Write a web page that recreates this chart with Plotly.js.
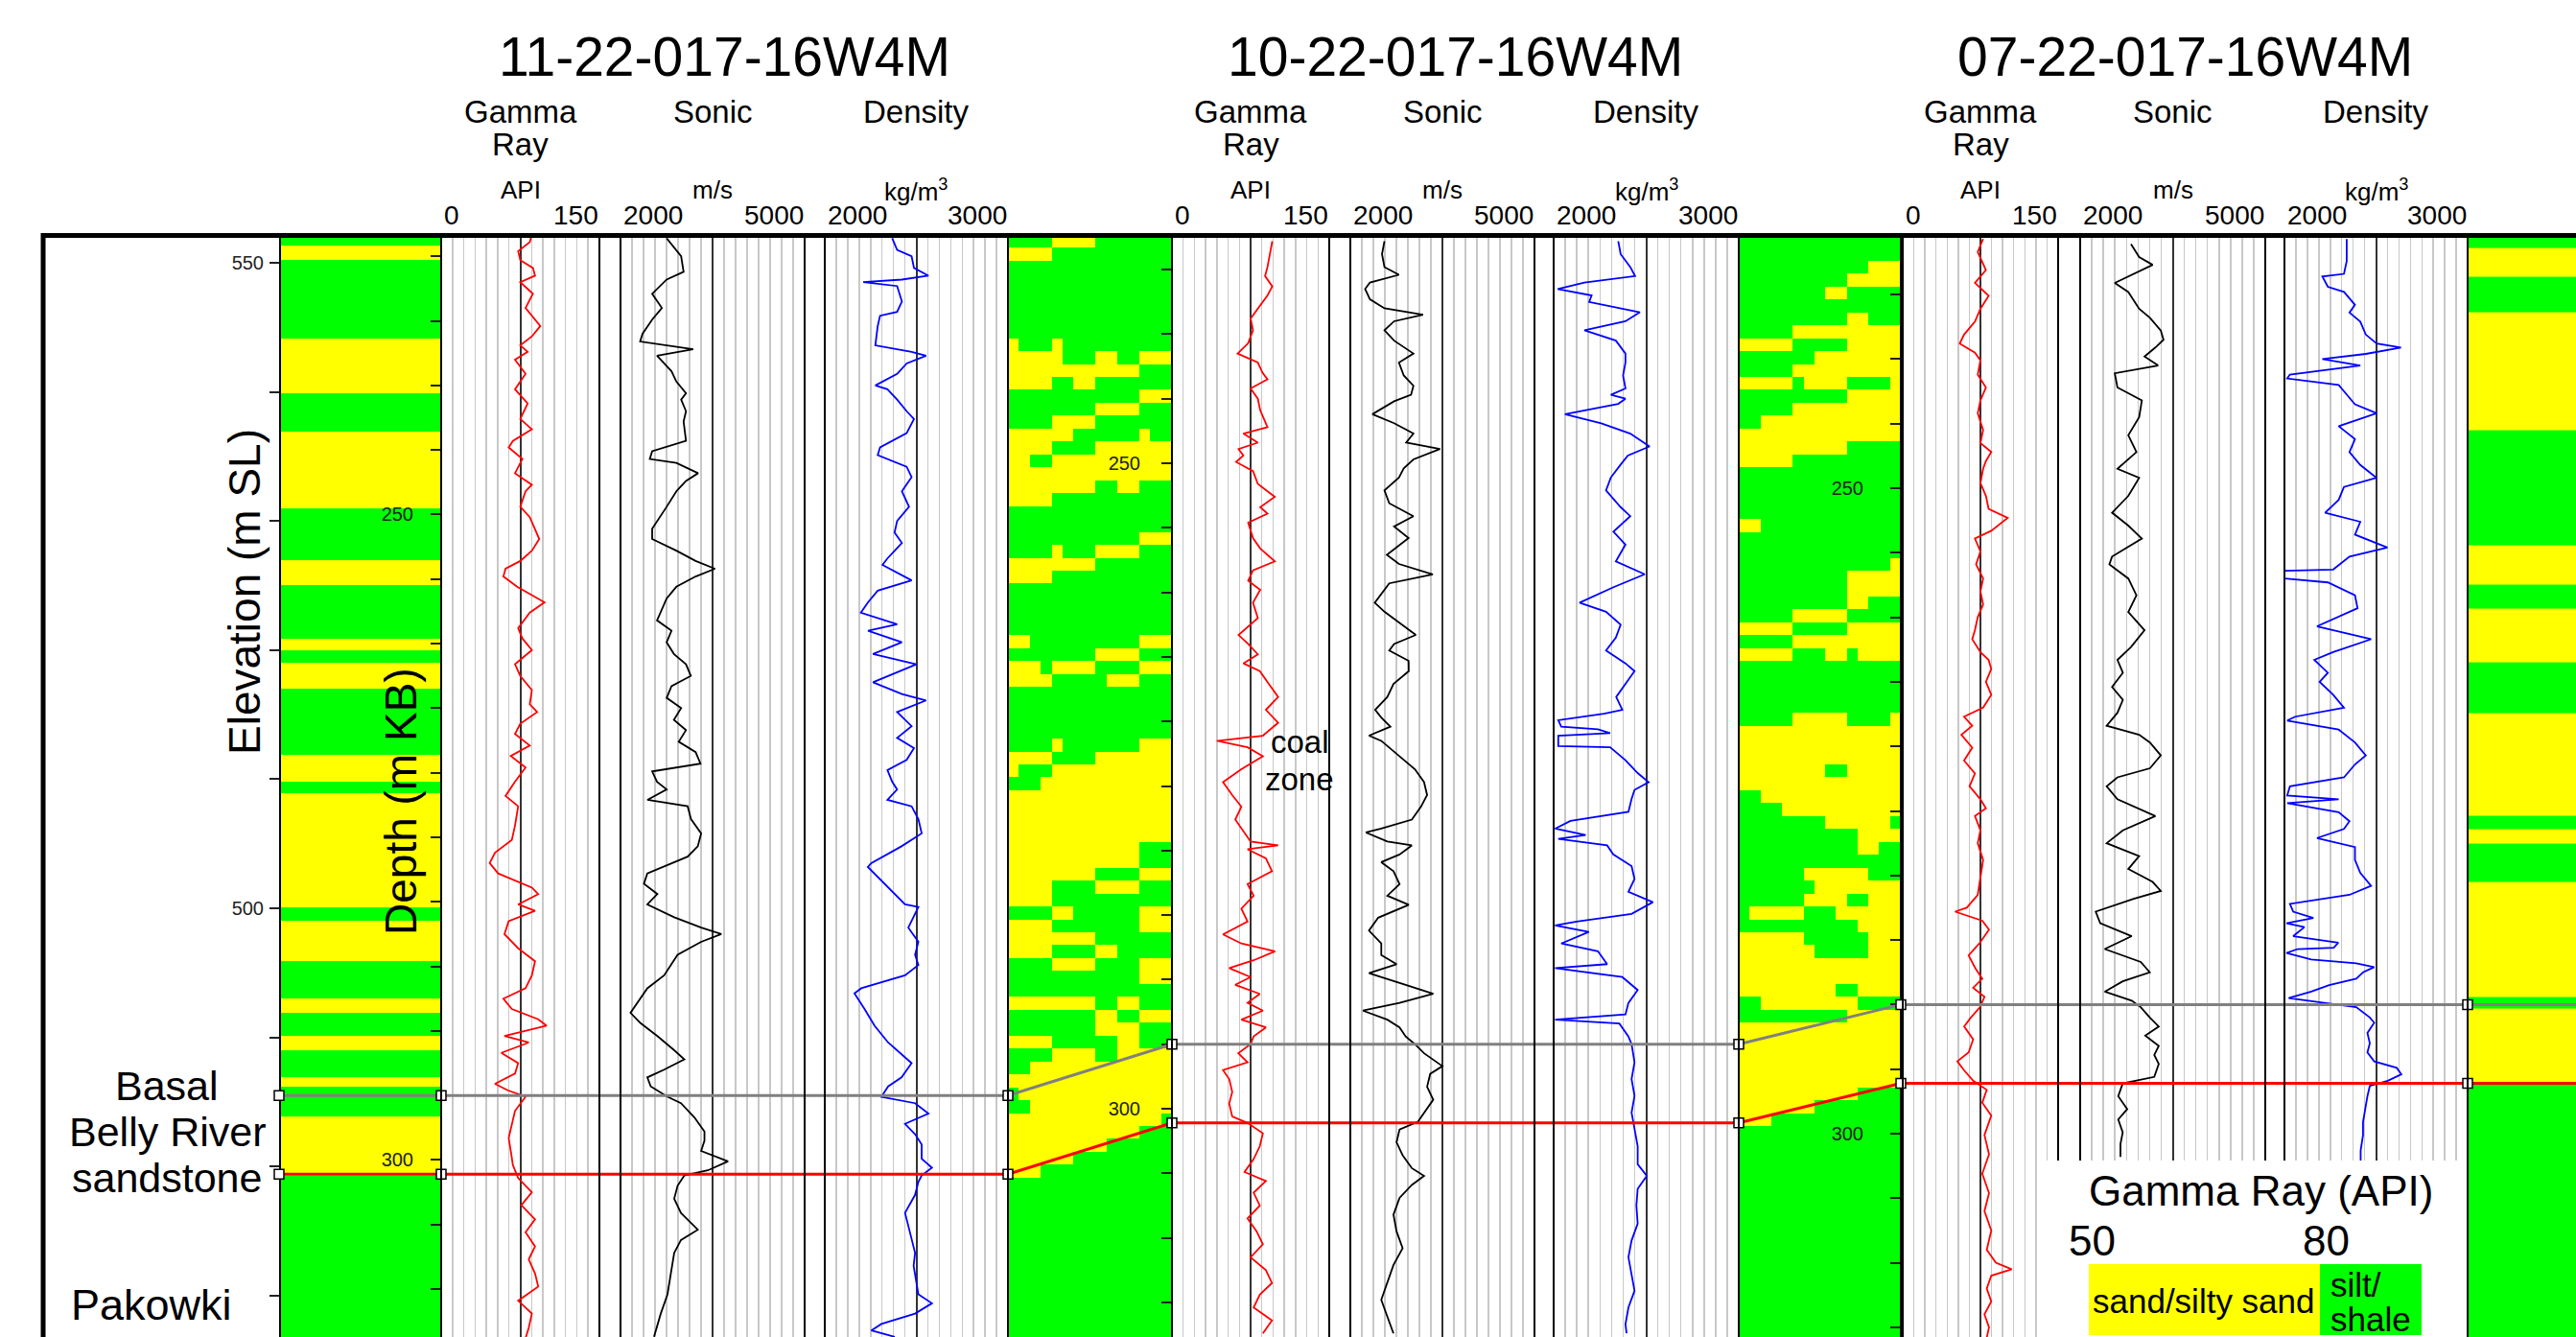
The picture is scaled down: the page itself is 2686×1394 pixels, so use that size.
<!DOCTYPE html>
<html>
<head>
<meta charset="utf-8">
<script src="https://cdn.plot.ly/plotly-3.0.1.min.js"></script>
<style>
html,body{margin:0;padding:0;background:#fff;}
#chart{width:2686px;height:1394px;}
</style>
</head>
<body>
<div id="chart"></div>
<script>
// ---------------- DATA ----------------
const wellNames = ['11-22-017-16W4M', '10-22-017-16W4M', '07-22-017-16W4M'];
const trackNames = ['Sonic', 'Density'];
const trackUnits = ['API', 'm/s', 'kg/m<sup>3</sup>'];
const trackMin = [0, 2000, 2000];
const trackMax = [150, 5000, 3000];
const trackMid = [75, 3500, 2500];
const trackDivisions = [14, 16, 16];

// formation tops (depth m KB) per well
const topBasalBR = [295.0, 295.0, 290.0];
const baseBasalBR = [301.1, 301.1, 296.1];

// Gamma ray [depth m KB, API]
const gr1 = [[228.3,86],[228.9,84],[229.6,73],[230.3,75],[230.9,87],[231.5,89],[232.0,75],[232.9,87],[234.0,80],[235.4,94],[236.2,86],[236.9,75],[237.4,82],[238.0,70],[239.1,80],[240.3,70],[241.4,82],[242.6,75],[243.4,86],[244.3,68],[244.8,64],[245.7,77],[246.8,70],[247.7,86],[248.2,80],[249.4,75],[250.2,84],[251.1,89],[251.9,93],[252.8,86],[253.6,75],[254.2,61],[254.8,59],[255.6,72],[256.8,98],[257.6,84],[258.8,73],[259.6,77],[260.5,86],[261.6,70],[262.5,75],[263.6,86],[264.7,84],[265.3,91],[266.2,75],[267.0,70],[267.9,84],[268.7,66],[269.6,80],[270.7,70],[271.8,61],[272.6,73],[274.1,70],[275.2,67],[276.2,51],[277.0,46],[277.8,54],[278.9,86],[279.4,92],[280.2,73],[280.7,89],[281.5,64],[282.5,60],[283.6,73],[284.6,89],[285.7,86],[286.7,80],[287.5,59],[288.3,67],[289.1,92],[289.6,100],[290.4,60],[290.9,83],[291.7,57],[292.5,73],[293.3,70],[294.1,51],[294.6,63],[295.1,80],[296.2,70],[297.2,67],[298.3,64],[299.3,66],[300.4,68],[301.4,73],[302.5,86],[303.5,76],[304.6,89],[305.6,80],[306.7,89],[307.7,83],[308.8,89],[309.8,92],[310.9,73],[311.9,86],[313.0,83],[313.8,80]];
const gr2 = [[232.8,95.7],[233.8,93.4],[234.8,91.1],[235.5,88.8],[236.3,95.7],[237.0,91.1],[237.8,84.2],[238.8,75],[239.7,77.3],[240.7,72.7],[241.5,62.6],[242.2,81.9],[243.0,86.5],[243.5,91.1],[244.2,75],[245.0,81.9],[245.9,84.2],[247.2,91.1],[247.7,68.1],[248.4,81.9],[248.9,63.5],[249.4,68.1],[249.9,61.2],[250.6,77.3],[251.6,81.9],[252.6,98.1],[253.4,84.2],[253.9,91.1],[254.6,72.7],[255.8,77.3],[256.6,84.2],[257.6,98.1],[258.3,77.3],[259.1,72.7],[259.8,84.2],[260.8,77.3],[262.0,81.9],[263.3,63.5],[264.0,72.7],[264.8,81.9],[265.5,68.1],[266.1,83.8],[267.1,92.5],[268.1,101.3],[269.1,89.6],[270.1,101.3],[271.1,86.7],[271.5,42.9],[272.0,72.1],[272.7,86.7],[273.7,66.2],[274.7,48.7],[275.7,57.5],[276.6,66.2],[277.6,60.4],[278.6,69.2],[279.3,75],[279.6,101.3],[279.9,72.1],[280.6,89.6],[281.6,95.4],[282.6,72.1],[283.5,77.9],[284.5,66.2],[285.5,72.1],[286.5,48.7],[287.2,66.2],[287.8,98.3],[288.5,77.9],[289.1,54.6],[289.8,75],[290.4,60.4],[291.1,83.8],[291.8,72.1],[292.4,86.7],[293.1,66.2],[293.7,89.6],[294.4,77.9],[295.0,75],[295.7,63.3],[296.4,72.1],[297.0,48.7],[297.7,54.6],[298.7,57.5],[299.6,54.6],[300.6,57.5],[301.1,72.1],[301.9,86.7],[302.9,83.8],[303.9,77.9],[304.9,69.2],[305.6,89.6],[306.5,77.9],[307.5,83.8],[308.5,72.1],[309.5,80.8],[310.5,86.7],[311.5,75],[312.5,89.6],[313.5,95.4],[314.4,83.8],[315.4,77.9],[316.4,95.4],[317.4,86.7]];
const gr3 = [[230.7,77.6],[231.7,72.4],[233.1,80.3],[234.1,69.7],[235.1,82.9],[236.1,75],[237.1,69.7],[238.1,59.2],[238.8,55],[239.5,69.7],[240.1,75],[241.2,72.4],[242.2,80.3],[243.2,75],[244.2,72.4],[245.5,77.6],[246.5,75],[247.2,85.5],[247.9,80.3],[248.5,77.6],[249.6,75],[250.6,80.3],[251.6,82.9],[252.3,101.3],[253.3,85.5],[253.9,69.7],[254.9,75],[255.9,70.8],[257.0,77.6],[258.0,75],[259.0,77.6],[260.0,72.4],[261.0,69.7],[261.7,67.1],[262.7,75],[263.3,82.9],[264.0,85.5],[265.0,80.3],[266.0,85.5],[267.0,77.6],[267.7,59.2],[268.4,67.1],[269.1,56.6],[270.1,67.1],[271.1,59.2],[272.1,69.7],[273.1,64.5],[274.1,75],[274.8,80.3],[275.4,69.7],[276.5,75],[277.5,72.4],[278.8,77.6],[280.2,75],[281.5,72.4],[282.5,61.8],[282.8,50.5],[283.5,76.8],[284.2,83.3],[285.2,74.6],[286.2,63.6],[287.2,70.2],[288.0,76.8],[288.7,68],[289.4,78.9],[290.2,74.6],[291.0,65.8],[291.7,59.3],[292.7,68],[293.7,63.6],[294.4,52.7],[295.1,59.3],[295.9,68],[296.6,81.1],[297.6,76.8],[298.6,85.5],[300.1,78.9],[301.6,83.3],[303.1,76.8],[304.6,83.3],[306.0,78.9],[307.5,85.5],[309.0,81.1],[310.0,89.9],[310.5,105.2],[311.0,85.5],[312.0,81.1],[313.0,85.5],[314.0,78.9],[315.0,83.3],[315.8,81.1]];

// Sonic velocity [depth m KB, m/s]
const son1 = [[228.6,2752],[230.0,2988],[231.2,3028],[231.8,2752],[232.9,2516],[234.0,2674],[234.9,2516],[236.0,2359],[236.6,2320],[237.2,3185],[237.7,2595],[238.9,2831],[239.7,2910],[240.6,3067],[241.1,2988],[242.0,3067],[242.8,3028],[244.3,3067],[245.1,2516],[245.7,2477],[246.0,2910],[246.8,3264],[247.4,3067],[248.2,2910],[249.4,2752],[250.5,2595],[251.1,2516],[251.9,2516],[252.8,2910],[253.6,3224],[254.2,3539],[254.8,3224],[255.6,2910],[256.5,2752],[257.3,2674],[258.2,2595],[259.0,2831],[259.9,2752],[260.8,2870],[261.6,3067],[262.5,3146],[263.3,2831],[264.2,2752],[265.0,2988],[265.9,2870],[266.7,3067],[267.6,2949],[268.4,3224],[269.3,3303],[269.9,2516],[270.7,2595],[271.3,2752],[272.1,2438],[272.6,3094],[273.6,3149],[274.7,3314],[275.7,3259],[276.5,3094],[277.8,2437],[278.6,2382],[279.4,2601],[280.2,2437],[281.2,2875],[282.0,3314],[282.5,3643],[283.1,3314],[284.1,2930],[284.9,2820],[285.7,2711],[286.7,2437],[287.8,2272],[288.6,2163],[289.4,2327],[290.4,2601],[291.5,2875],[292.2,3040],[293.0,2711],[293.6,2437],[294.3,2492],[295.1,2766],[295.6,2985],[296.7,3204],[297.8,3368],[298.5,3368],[299.3,3314],[300.1,3752],[300.8,3423],[301.2,3040],[302.0,2930],[303.0,2875],[304.1,2985],[305.4,3259],[306.2,2985],[307.2,2875],[308.8,2820],[310.4,2766],[311.9,2656],[313.7,2546]];
const son2 = [[232.8,2556],[233.8,2516],[234.8,2556],[235.4,2792],[236.0,2320],[236.5,2241],[237.3,2320],[238.0,2556],[238.5,3185],[239.0,2713],[239.7,2556],[240.5,2713],[241.5,3028],[242.2,2792],[243.2,2870],[244.0,3028],[244.7,2989],[245.2,2713],[246.2,2359],[246.9,2713],[247.7,3028],[248.4,2910],[248.9,3461],[249.7,3028],[250.4,2870],[251.1,2792],[252.1,2556],[253.1,2634],[254.1,3028],[254.9,2713],[255.8,2949],[257.1,2595],[257.8,2792],[258.6,3343],[259.3,2634],[260.3,2477],[260.8,2398],[261.5,2556],[262.3,2792],[263.3,3067],[264.0,2713],[264.5,2634],[265.3,2949],[266.1,2952],[267.1,2703],[268.1,2603],[269.1,2404],[269.7,2504],[270.4,2653],[271.1,2304],[271.5,2504],[272.7,2802],[273.7,3052],[274.7,3201],[275.7,3251],[276.6,3151],[277.6,3002],[278.3,2504],[278.6,2254],[279.3,2603],[279.6,3002],[280.3,2802],[280.9,2504],[281.6,2703],[282.6,2802],[283.5,2603],[284.2,2952],[285.2,2454],[286.2,2304],[287.2,2504],[288.1,2504],[288.8,2753],[289.5,2304],[290.4,2902],[291.1,3351],[291.8,2802],[292.4,2205],[293.1,2603],[293.7,2802],[294.4,2902],[295.0,3052],[295.7,3201],[296.7,3500],[297.3,3301],[298.3,3251],[299.3,3351],[300.3,3201],[301.0,3101],[301.6,2802],[302.6,2753],[303.6,2852],[304.6,3002],[305.2,3201],[305.9,3002],[306.9,2802],[308.2,2703],[309.5,2753],[310.8,2852],[312.1,2703],[313.5,2603],[314.8,2504],[316.1,2603],[317.4,2703]];
const son3 = [[231.1,2824],[232.1,2956],[232.7,3175],[233.4,2868],[234.1,2561],[234.8,2780],[236.1,2956],[236.8,3131],[237.8,3307],[238.5,3351],[239.1,3219],[239.8,3043],[240.5,3263],[241.1,2561],[242.2,2604],[243.2,3000],[244.5,2956],[245.9,2780],[247.2,2912],[248.5,2604],[249.2,2956],[250.6,2780],[251.9,2517],[252.9,2780],[253.9,3000],[255.3,2517],[255.9,2473],[257.0,2780],[258.3,2912],[259.6,2780],[261.0,3043],[262.3,2824],[263.3,2604],[264.3,2692],[265.4,2517],[266.4,2692],[267.4,2604],[268.4,2429],[269.1,2956],[269.7,3131],[270.7,3307],[271.7,3131],[272.4,2604],[273.1,2429],[274.1,2604],[275.4,3219],[276.5,2692],[277.5,2429],[278.5,2956],[279.5,2780],[280.5,3175],[281.2,3307],[281.8,2868],[282.8,2252],[283.7,2325],[284.7,2836],[285.7,2398],[286.7,2982],[287.5,3128],[288.2,2690],[289.0,2398],[289.7,2836],[290.2,2982],[291.0,3128],[291.7,3274],[292.4,3055],[293.2,3274],[293.9,3201],[294.6,3274],[295.6,3201],[296.1,2690],[297.1,2617],[298.1,2763],[298.9,2617],[299.9,2690],[300.8,2653],[301.8,2653]];

// Bulk density [depth m KB, kg/m3]
const den1 = [[228.6,2368],[229.5,2395],[230.0,2474],[230.9,2487],[231.5,2566],[231.8,2421],[232.0,2210],[232.3,2395],[233.5,2421],[234.3,2395],[234.6,2302],[235.4,2289],[236.9,2276],[237.4,2474],[237.7,2553],[238.3,2447],[239.1,2395],[240.0,2276],[240.3,2342],[241.1,2395],[242.0,2447],[242.6,2487],[243.7,2447],[244.8,2302],[245.4,2289],[246.3,2447],[247.1,2474],[248.2,2421],[249.4,2460],[250.5,2395],[251.4,2381],[252.2,2421],[253.4,2342],[253.9,2315],[255.1,2474],[255.9,2289],[256.8,2236],[257.6,2197],[258.5,2395],[259.0,2236],[259.9,2421],[260.8,2263],[261.6,2500],[262.5,2342],[263.0,2263],[263.9,2421],[264.4,2553],[265.3,2395],[266.4,2474],[267.3,2395],[268.1,2487],[269.0,2447],[269.8,2342],[270.7,2368],[271.3,2395],[272.1,2342],[272.6,2474],[273.6,2511],[274.7,2529],[275.7,2419],[277.0,2254],[277.3,2235],[278.9,2346],[280.2,2438],[280.4,2511],[282.0,2456],[283.1,2511],[284.1,2493],[284.9,2511],[285.7,2438],[286.7,2199],[287.1,2162],[288.3,2217],[289.6,2272],[290.9,2346],[292.5,2474],[293.6,2419],[294.3,2346],[295.1,2309],[295.6,2493],[296.4,2566],[297.2,2438],[298.0,2493],[298.8,2529],[299.9,2529],[300.6,2585],[301.2,2529],[301.7,2511],[302.7,2493],[304.1,2438],[305.1,2456],[306.2,2474],[307.2,2493],[308.2,2485],[309.3,2500],[310.4,2511],[311.1,2585],[311.9,2493],[312.7,2309],[313.2,2254],[313.7,2382]];
const den2 = [[232.8,2349],[233.8,2362],[234.8,2414],[235.5,2440],[236.0,2166],[236.5,2022],[237.0,2205],[237.5,2192],[238.3,2466],[239.0,2388],[239.7,2166],[240.5,2336],[241.5,2388],[242.2,2388],[243.2,2375],[244.2,2388],[244.7,2309],[245.0,2388],[245.4,2349],[246.2,2061],[246.9,2257],[247.7,2414],[248.7,2518],[249.4,2401],[250.1,2362],[251.1,2309],[252.1,2283],[253.4,2362],[254.1,2414],[255.3,2323],[256.3,2388],[257.6,2336],[258.6,2492],[259.6,2323],[260.8,2140],[261.5,2283],[262.5,2362],[263.5,2336],[264.5,2283],[265.5,2388],[266.1,2437],[267.1,2388],[268.1,2338],[269.1,2371],[269.4,2272],[269.9,2025],[270.4,2041],[270.6,2239],[270.9,2305],[271.1,2025],[271.9,2025],[272.0,2305],[273.0,2388],[274.0,2454],[274.7,2513],[275.3,2437],[276.0,2421],[277.0,2404],[277.7,2091],[278.3,2008],[278.8,2173],[279.1,2025],[279.6,2289],[280.3,2322],[281.2,2421],[282.2,2437],[283.2,2404],[284.0,2536],[284.9,2421],[285.5,2124],[285.8,2008],[286.3,2190],[287.2,2041],[287.8,2239],[288.8,2289],[289.1,2008],[289.8,2371],[290.8,2454],[291.8,2404],[292.7,2388],[293.1,2008],[293.4,2355],[294.4,2404],[295.0,2421],[296.4,2437],[297.7,2421],[299.0,2437],[300.3,2421],[301.6,2437],[302.9,2454],[304.3,2454],[305.2,2503],[306.2,2454],[307.5,2447],[308.9,2454],[310.2,2421],[311.5,2404],[312.8,2421],[314.1,2437],[315.4,2404],[316.7,2388],[317.4,2394]];
const den3 = [[230.7,2340],[232.4,2340],[233.4,2325],[233.6,2207],[234.4,2237],[234.8,2325],[235.8,2385],[236.4,2355],[237.1,2414],[238.1,2444],[238.8,2503],[239.1,2636],[239.6,2444],[240.0,2207],[240.5,2414],[241.2,2030],[241.5,2015],[242.0,2296],[242.5,2325],[243.5,2385],[244.2,2503],[245.2,2296],[246.2,2385],[247.2,2355],[248.2,2414],[249.2,2503],[249.9,2325],[250.9,2296],[251.9,2222],[252.6,2414],[253.6,2385],[254.6,2562],[255.3,2355],[256.3,2266],[256.4,2000],[257.0,2000],[257.3,2237],[258.3,2385],[259.3,2399],[260.3,2237],[260.7,2178],[261.7,2473],[262.7,2266],[263.3,2163],[264.3,2237],[265.0,2192],[266.0,2266],[267.0,2325],[267.7,2059],[268.0,2015],[268.7,2296],[269.7,2385],[270.7,2444],[271.4,2385],[272.4,2325],[273.1,2030],[273.8,2015],[274.1,2296],[274.4,2015],[275.1,2296],[275.8,2355],[276.4,2325],[277.1,2178],[277.8,2385],[278.8,2385],[279.8,2414],[280.8,2473],[281.5,2355],[282.2,2030],[282.8,2048],[283.3,2158],[283.7,2011],[284.0,2109],[284.7,2048],[285.2,2294],[285.6,2269],[285.7,2072],[286.0,2011],[286.5,2146],[286.8,2392],[287.1,2490],[287.5,2429],[288.0,2392],[288.5,2244],[289.0,2146],[289.5,2023],[289.8,2195],[290.2,2392],[291.0,2466],[291.4,2490],[292.2,2453],[293.0,2466],[293.7,2453],[294.4,2490],[294.9,2613],[295.4,2638],[295.9,2564],[296.3,2466],[297.1,2453],[298.1,2441],[299.1,2429],[300.1,2429],[301.3,2416],[302.1,2416]];

// Lithology columns at wells: band boundaries (m KB) and codes (Y sand/silty sand, G silt/shale)
const lith1Edges = [228.5,229.2,230.3,236.4,240.6,243.6,249.5,253.5,255.5,259.6,260.5,261.5,263.5,268.6,270.7,271.6,280.4,281.5,284.6,287.5,288.6,290.4,291.5,293.6,294.3,296.6,301.2,314.0];
const lith1Code  = ['G','Y','G','Y','G','Y','G','Y','G','Y','G','Y','G','Y','G','Y','G','Y','G','Y','G','Y','G','Y','G','Y','G'];
const lith3Edges = [230.5,231.4,233.6,236.4,245.5,254.4,257.5,259.3,263.5,267.4,275.4,276.4,277.5,280.5,289.4,290.3,296.0,316.0];
const lith3Code  = ['G','Y','G','Y','G','Y','G','Y','G','Y','G','Y','G','Y','G','Y','G'];

// Interpolated lithology between wells: 1 m rows (first row centred 228.84 m, well 1 datum), 15 columns
const panel12 = [
'GGGGYYYYGGGGGGG','YYYYGGGGGGGGGGG','GGGGGGGGGGGGGGG','GGGGGGGGGGGGGGG','GGGGGGGGGGGGGGG','GGGGGGGGGGGGGGG','GGGGGGGGGGGGGGG','GGGGGGGGGGGGGGG',
'YGGGYGGGGGGGGGG','YYYYYGGGYYGGYYY','YYYYYYYYYYYYGGG','YYYYGGYYGGGGGGG','GGGGGGGGGGGGYYY','GGGGGGGGYYYYGGG','GGGGYYYYGGGGGGG','YYYYYYGGGGGGYGG',
'YYYYGGGGYYYYYYY','YYGGYYYYYYYYYYY','YYYYYYYYYYYYYYY','YYYYYYYYGGYYGGG','YYYYGGGGGGGGGGG','GGGGGGGGGGGGGGG','GGGGGGGGGGGGGGG','GGGGGGGGGGGGYYY',
'GGGGYGGGYYYYGGG','YYYYYYYYGGGGGGG','YYYYGGGGGGGGGGG','GGGGGGGGGGGGGGG','GGGGGGGGGGGGGGG','GGGGGGGGGGGGGGG','GGGGGGGGGGGGGGG','YYGGGGGGGGGGYYY',
'GGGGGGGGYYYYGGG','YYYGYYYYGGGGYYY','YYYYGGGGGYYYGGG','GGGGGGGGGGGGGGG','GGGGGGGGGGGGGGG','GGGGGGGGGGGGGGG','GGGGGGGGGGGGGGG','GGGGYGGGGGGGYYY',
'YYYYGGGGYYYYYYY','YGGGYYYYYYYYYYY','GGGYYYYYYYYYYYY','YYYYYYYYYYYYYYY','YYYYYYYYYYYYYYY','YYYYYYYYYYYYYYY','YYYYYYYYYYYYYYY','YYYYYYYYYYYYGGG',
'YYYYYYYYYYYYGGG','YYYYYYYYGGGGYYY','YYYYGGGGYYYYGGG','YYYYGGGGGGGGGGG','GGGGYYGGGGGGYYY','YYYYGGGGGGGGYYY','YYYYYYYYGGGGGGG','YYYYGGGGYYGGGGG',
'GGGGYYYYGGGGYYY','GGGGGGGGGGGGYYY','GGGGGGGGGGGGGGG','YYYYYYYYGGYYGGG','GGGGGGGGYYGGYYY','GGGGGGGGYYYYGGG','YYYYGGGGGGYYGGG','GGGGYYYYGGYYYYY',
'GGYYYYYYYYYYYYY','YYYYYYYYYYYYYYY','GYYYYYYYYYYYYYY','GGYYYYYYYYYYYYY','YYYYYYYYYYYYYYG','YYYYYYYYYYYYGGG','YYYYYYYYYGGGGGG','YYYYYYGGGGGGGGG',
'YYYGGGGGGGGGGGG','GGGGGGGGGGGGGGG','GGGGGGGGGGGGGGG','GGGGGGGGGGGGGGG','GGGGGGGGGGGGGGG','GGGGGGGGGGGGGGG','GGGGGGGGGGGGGGG','GGGGGGGGGGGGGGG',
'GGGGGGGGGGGGGGG','GGGGGGGGGGGGGGG','GGGGGGGGGGGGGGG','GGGGGGGGGGGGGGG','GGGGGGGGGGGGGGG','GGGGGGGGGGGGGGG'];
const panel23 = [
'GGGGGGGGGGGGGGG','GGGGGGGGGGGGGGG','GGGGGGGGGGGGYYY','GGGGGGGGGGYYYYY','GGGGGGGGYYGGGGG','GGGGGGGGGGGGGGG','GGGGGGGGGGYYGGG','GGGGGYYYYYYYYYY',
'YYYYYGGGGGYYYYY','GGGGGGGYYYYYYYY','GGGGGYYYYYYYYYY','YYYYYGYYYYGGGGY','GGGGGGGGGGYYYYY','GGGGGYYYYYYYYYY','GGYYYYYYYYYYYYY','YYYYYYYYYYYYYYY',
'YYYYYYYYYYGGGGG','YYYYYGGGGGGGGGG','GGGGGGGGGGGGGGG','GGGGGGGGGGGGGGG','GGGGGGGGGGGGGGG','GGGGGGGGGGGGGGG','YYGGGGGGGGGGGGG','GGGGGGGGGGGGGGG',
'GGGGGGGGGGGGGGG','GGGGGGGGGGGGGGY','GGGGGGGGGGYYYYY','GGGGGGGGGGYYYYY','GGGGGGGGGGYYGGG','GGGGGYYYYYGGGGG','YYYYYGGGGGYYYYY','GGGGGYYYYYYYYYY',
'YYYYYGGGYYGYYYY','GGGGGGGGGGGGGGG','GGGGGGGGGGGGGGG','GGGGGGGGGGGGGGG','GGGGGGGGGGGGGGG','GGGGGYYYYYGGGGY','YYYYYYYYYYYYYYY','YYYYYYYYYYYYYYY',
'YYYYYYYYYYYYYYY','YYYYYYYYGGYYYYY','YYYYYYYYYYYYYYY','GGYYYYYYYYYYYYY','GGGGYYYYYYYYYYY','GGGGGGGGYYYYYYG','GGGGGGGGGGGYYYY','GGGGGGGGGGGYYGG',
'GGGGGGGGGGGGGGG','GGGGGGYYYYYYGGG','GGGGGGGYYYYYYYY','GGGGGGYYYYGGYYY','GYYYYYGGGYYYYYY','GGGGGGGGGGGYYYY','YYYYYYGGGGGGYYY','YYYYYYYGGGGGYYY',
'YYYYYYYYYYYYYYY','YYYYYYYYYYYYYYY','YYYYYYYYYGGYYYY','GGYYYYYYYYYGGGG','GGGGGGGGGGYYYYY','YYYYYYYYYYYYYYY','YYYYYYYYYYYYYYY','YYYYYYYYYYYYYYY',
'YYYYYYYYYYYYYYY','YYYYYYYYYYYYYYY','YYYYYYYYYYYGGGG','YYYYYYYGGGGGGGG','YYYGGGGGGGGGGGG','GGGGGGGGGGGGGGG','GGGGGGGGGGGGGGG','GGGGGGGGGGGGGGG',
'GGGGGGGGGGGGGGG','GGGGGGGGGGGGGGG','GGGGGGGGGGGGGGG','GGGGGGGGGGGGGGG','GGGGGGGGGGGGGGG','GGGGGGGGGGGGGGG','GGGGGGGGGGGGGGG','GGGGGGGGGGGGGGG',
'GGGGGGGGGGGGGGG','GGGGGGGGGGGGGGG','GGGGGGGGGGGGGGG','GGGGGGGGGGGGGGG','GGGGGGGGGGGGGGG','GGGGGGGGGGGGGGG'];
const panelFirstRowDepth = 228.84;

// ---------------- LAYOUT GEOMETRY (pixels) ----------------
const W = 2686, H = 1394, TOP = 248;
const YDOM = [0, 1 - TOP / H];
const KB1 = 780.5;                       // elevation of well-1 depth datum
const wellTop = [228.57, 232.54, 230.61]; // depth shown at top of each well
const depthSpan = 85.14;                 // metres shown
const COLS = {
  lith1: [291, 460], pan12: [1051, 1222], pan23: [1813, 1982], lith3: [2573, 2686],
  gr: [[460, 625], [1222, 1386], [1984, 2146]],
  so: [[647, 839], [1408, 1600], [2169, 2362]],
  de: [[860, 1051], [1620, 1813], [2382, 2573]]
};
const px = v => v / W, py = v => 1 - v / H;
const LITH_SCALE = [[0, '#ffff00'], [0.5, '#ffff00'], [0.5, '#00ff00'], [1, '#00ff00']];
const FONT = 'Liberation Sans, Arial, sans-serif';

const traces = [];
const shapes = [];
const annotations = [];

function lineTrace(pairs, xa, ya, color, width) {
  traces.push({type: 'scatter', mode: 'lines', x: pairs.map(p => p[1]), y: pairs.map(p => p[0]),
    xaxis: xa, yaxis: ya, line: {color: color, width: width}, hoverinfo: 'skip', showlegend: false});
}
const codeZ = c => (c === 'Y' ? 0 : 1);

// lithology at well 1
traces.push({type: 'heatmap', x: [0, 1], y: lith1Edges, z: lith1Code.map(c => [codeZ(c)]),
  xaxis: 'x', yaxis: 'y', colorscale: LITH_SCALE, zmin: 0, zmax: 1, showscale: false, hoverinfo: 'skip'});
// elevation axis carrier
traces.push({type: 'scatter', mode: 'markers', x: [null], y: [null], xaxis: 'x', yaxis: 'y2', showlegend: false, hoverinfo: 'skip'});
// correlation panels
[[panel12, 'x5'], [panel23, 'x9']].forEach(([rows, xa]) => {
  traces.push({type: 'heatmap', z: rows.map(r => r.split('').map(codeZ)), x0: 0.5, dx: 1,
    y0: panelFirstRowDepth, dy: 1, xaxis: xa, yaxis: 'y', colorscale: LITH_SCALE, zmin: 0, zmax: 1,
    showscale: false, hoverinfo: 'skip', zsmooth: false});
});
// lithology at well 3
traces.push({type: 'heatmap', x: [0, 1], y: lith3Edges, z: lith3Code.map(c => [codeZ(c)]),
  xaxis: 'x13', yaxis: 'y4', colorscale: LITH_SCALE, zmin: 0, zmax: 1, showscale: false, hoverinfo: 'skip'});

// logs
const wellAxes = [
  {gr: 'x2', so: 'x3', de: 'x4', y: 'y'},
  {gr: 'x6', so: 'x7', de: 'x8', y: 'y3'},
  {gr: 'x10', so: 'x11', de: 'x12', y: 'y4'}
];
const grData = [gr1, gr2, gr3], soData = [son1, son2, son3], deData = [den1, den2, den3];
wellAxes.forEach((a, i) => {
  lineTrace(grData[i], a.gr, a.y, '#ff0000', 1.8);
  lineTrace(soData[i], a.so, a.y, '#000000', 1.8);
  lineTrace(deData[i], a.de, a.y, '#0000ff', 1.8);
});

// correlation lines (converted to well-1 display frame)
const corrX = [291, 460, 1051, 1222, 1813, 1982, 2573, 2686];
const corrWell = [0, 0, 0, 1, 1, 2, 2, 2];
const toFrame = tops => corrWell.map(w => tops[w] - wellTop[w] + wellTop[0]);
[[topBasalBR, '#808080'], [baseBasalBR, '#ff0000']].forEach(([tops, col]) => {
  const yy = toFrame(tops);
  traces.push({type: 'scatter', mode: 'lines', x: corrX, y: yy, xaxis: 'x14', yaxis: 'y',
    line: {color: col, width: 3}, hoverinfo: 'skip', showlegend: false});
  traces.push({type: 'scatter', mode: 'markers', x: corrX.slice(0, 7), y: yy.slice(0, 7), xaxis: 'x14', yaxis: 'y',
    marker: {symbol: 'square', size: 10, color: '#ffffff', line: {color: '#000', width: 1.5}},
    hoverinfo: 'skip', showlegend: false});
});

// ---------------- AXES ----------------
function trackAxis(col, range, mid, dtick, anchor) {
  return {domain: [px(col[0]), px(col[1])], range: range, anchor: anchor,
    tickmode: 'array', tickvals: [mid], showgrid: true, gridcolor: '#333333', gridwidth: 2,
    minor: {tick0: range[0], dtick: dtick, showgrid: true, gridcolor: '#c8c8c8', gridwidth: 1.5, ticks: ''},
    showticklabels: false, ticks: '', zeroline: false, showline: false, fixedrange: true};
}
function plainAxis(col, range, anchor) {
  return {domain: [px(col[0]), px(col[1])], range: range, anchor: anchor, visible: false, fixedrange: true};
}
function depthAxis(range, posPx, minorStep, standoff) {
  return {domain: YDOM, range: range, anchor: 'free', position: px(posPx), side: 'left',
    showgrid: false, zeroline: false, showline: true, linecolor: '#000', linewidth: 2,
    ticks: 'outside', ticklen: 10, tickwidth: 2, tickcolor: '#222', tick0: 0, dtick: 50,
    minor: {ticks: 'outside', dtick: minorStep, ticklen: 10, tickwidth: 2, tickcolor: '#222', showgrid: false},
    tickfont: {size: 20, color: '#222', family: FONT}, ticklabelstandoff: standoff, fixedrange: true};
}
const dRange = i => [wellTop[i] + depthSpan, wellTop[i]];

const layout = {
  width: W, height: H, margin: {l: 0, r: 0, t: 0, b: 0, pad: 0},
  paper_bgcolor: '#ffffff', plot_bgcolor: 'rgba(0,0,0,0)', showlegend: false,
  font: {family: FONT, color: '#000'},
  xaxis: plainAxis(COLS.lith1, [0, 1], 'y'),
  xaxis5: plainAxis(COLS.pan12, [0, 15], 'y'),
  xaxis9: plainAxis(COLS.pan23, [0, 15], 'y'),
  xaxis13: plainAxis(COLS.lith3, [0, (COLS.lith3[1] - COLS.lith3[0]) / 170], 'y4'),
  xaxis14: {domain: [0, 1], range: [0, W], anchor: 'y', visible: false, fixedrange: true},
  yaxis: depthAxis(dRange(0), 460, 5, 14),
  yaxis2: Object.assign(depthAxis([KB1 - wellTop[0] - depthSpan, KB1 - wellTop[0]], 291, 10, 2), {showline: true, linewidth: 1.5}),
  yaxis3: depthAxis(dRange(1), 1222, 5, 18),
  yaxis4: depthAxis(dRange(2), 1982, 5, 24),
  shapes: shapes, annotations: annotations
};
const gx = [['x2', 'x3', 'x4'], ['x6', 'x7', 'x8'], ['x10', 'x11', 'x12']];
const ya = ['y', 'y3', 'y4'];
const yTop = py(TOP);
for (let i = 0; i < 3; i++) {
  const cols = [COLS.gr[i], COLS.so[i], COLS.de[i]];
  for (let t = 0; t < 3; t++) {
    const id = gx[i][t];
    const step = (trackMax[t] - trackMin[t]) / trackDivisions[t];
    layout['xaxis' + id.slice(1)] = trackAxis(cols[t], [trackMin[t], trackMax[t]], trackMid[t], step, ya[i]);
    [cols[t][0], cols[t][1]].forEach(xe => {
      shapes.push({type: 'line', xref: 'paper', yref: 'paper', x0: px(xe), x1: px(xe), y0: 0, y1: yTop,
        line: {color: '#000', width: 2}, layer: 'above'});
    });
  }
}

// frame borders
shapes.push({type: 'line', xref: 'paper', yref: 'paper', x0: px(43), x1: 1, y0: py(245.5), y1: py(245.5), line: {color: '#000', width: 5}, layer: 'above'});
shapes.push({type: 'line', xref: 'paper', yref: 'paper', x0: px(45), x1: px(45), y0: py(243), y1: 0, line: {color: '#000', width: 5}, layer: 'above'});

// legend (GR colour key)
shapes.push({type: 'rect', xref: 'paper', yref: 'paper', x0: px(2128), x1: px(2571), y0: py(1210), y1: 0, fillcolor: '#ffffff', line: {width: 0}, layer: 'above'});
shapes.push({type: 'rect', xref: 'paper', yref: 'paper', x0: px(2178), x1: px(2419), y0: py(1318), y1: py(1392), fillcolor: '#ffff00', line: {width: 0}, layer: 'above'});
shapes.push({type: 'rect', xref: 'paper', yref: 'paper', x0: px(2419), x1: px(2525), y0: py(1318), y1: py(1392), fillcolor: '#00ff00', line: {width: 0}, layer: 'above'});

// ---------------- TEXT ----------------
function ann(text, x, y, size, opt) {
  annotations.push(Object.assign({xref: 'paper', yref: 'paper', x: px(x), y: py(y), text: text, showarrow: false,
    xanchor: 'center', yanchor: 'middle', font: {family: FONT, size: size, color: '#000'}}, opt || {}));
}
const rangeLabels = [['0', '150'], ['2000', '5000'], ['2000', '3000']];
for (let i = 0; i < 3; i++) {
  const c0 = COLS.gr[i][0], c1 = COLS.de[i][1];
  ann(wellNames[i], (c0 + c1) / 2, 59, 57);
  const cols = [COLS.gr[i], COLS.so[i], COLS.de[i]];
  const mid = cols.map(c => (c[0] + c[1]) / 2);
  ann('Gamma', mid[0], 116, 33);
  ann('Ray', mid[0], 151, 33);
  ann(trackNames[0], mid[1], 116, 33);
  ann(trackNames[1], mid[2], 116, 33);
  for (let t = 0; t < 3; t++) {
    ann(trackUnits[t], mid[t], 198, 26);
    ann(rangeLabels[t][0], cols[t][0] + 1, 225, 28, {xanchor: 'left'});
    ann(rangeLabels[t][1], cols[t][1] + 1, 225, 28, {xanchor: 'right'});
  }
}
ann('Elevation (m SL)', 255, 617, 46, {textangle: -90});
ann('Depth (m KB)', 418, 836, 46, {textangle: -90});
ann('Basal', 174, 1132, 43);
ann('Belly River', 175, 1180, 43);
ann('sandstone', 174, 1228, 43);
ann('Pakowki', 158, 1360, 45);
ann('coal', 1355, 773, 33);
ann('zone', 1355, 812, 33);
ann('Gamma Ray (API)', 2357, 1241, 44);
ann('50', 2181, 1293, 44);
ann('80', 2425, 1293, 44);
ann('sand/silty sand', 2298, 1356, 35);
ann('silt/', 2428, 1339, 35, {xanchor: 'left'});
ann('shale', 2428, 1375, 35, {xanchor: 'left'});

Plotly.newPlot('chart', traces, layout, {staticPlot: true, displayModeBar: false});
</script>
</body>
</html>
